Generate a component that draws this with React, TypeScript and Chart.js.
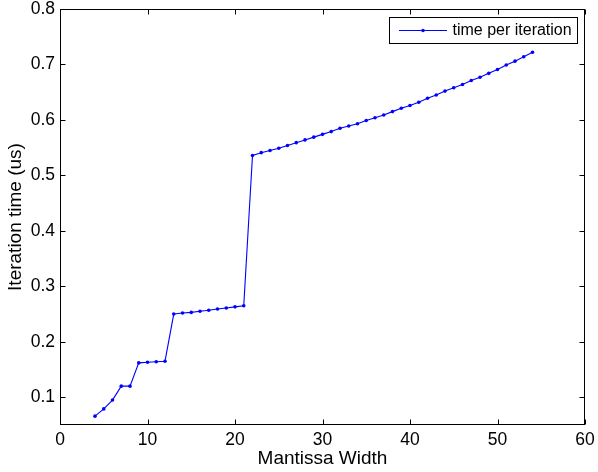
import React, { useEffect, useRef } from "react";
import { Chart, registerables } from "chart.js";

Chart.register(...registerables);

const mantissaWidths = [
  4, 5, 6, 7, 8, 9, 10, 11, 12, 13, 14, 15, 16, 17, 18, 19, 20, 21, 22, 23, 24, 25, 26, 27, 28,
  29, 30, 31, 32, 33, 34, 35, 36, 37, 38, 39, 40, 41, 42, 43, 44, 45, 46, 47, 48, 49, 50, 51,
  52, 53, 54,
];

const iterationTimes = [
  0.066, 0.079, 0.095, 0.12, 0.12, 0.162, 0.163, 0.164, 0.165, 0.25, 0.252, 0.253, 0.255,
  0.257, 0.259, 0.261, 0.263, 0.265, 0.536, 0.541, 0.545, 0.549, 0.554, 0.559, 0.564, 0.569,
  0.574, 0.579, 0.585, 0.589, 0.593, 0.599, 0.604, 0.609, 0.615, 0.621, 0.626, 0.632, 0.639,
  0.645, 0.652, 0.658, 0.664, 0.671, 0.677, 0.684, 0.691, 0.699, 0.706, 0.714, 0.722,
];

const xTicks = [0, 10, 20, 30, 40, 50, 60];
const yTicks = [0.1, 0.2, 0.3, 0.4, 0.5, 0.6, 0.7, 0.8];

const seriesLabel = "time per iteration";
const xTitle = "Mantissa Width";
const yTitle = "Iteration time (us)";

const FONT = "'Liberation Sans', Arial, Helvetica, sans-serif";
const BLUE = "#0000ff";

const framePlugin = {
  id: "frame",
  afterDraw(chart: any) {
    const { ctx, chartArea: a, scales } = chart;
    const xs = scales.x;
    const ys = scales.y;
    const L = Math.round(a.left) + 0.5;
    const R = Math.round(a.right) - 0.5;
    const T = Math.round(a.top) + 0.5;
    const B = Math.round(a.bottom) - 0.5;
    ctx.save();
    ctx.strokeStyle = "#000";
    ctx.lineWidth = 1;
    ctx.strokeRect(L, T, R - L, B - T);
    const tl = 5;
    ctx.beginPath();
    xTicks.forEach((v) => {
      const px = Math.round(xs.getPixelForValue(v)) + 0.5;
      ctx.moveTo(px, B);
      ctx.lineTo(px, B - tl);
      ctx.moveTo(px, T);
      ctx.lineTo(px, T + tl);
    });
    yTicks.forEach((v) => {
      const py = Math.round(ys.getPixelForValue(v)) + 0.5;
      ctx.moveTo(L, py);
      ctx.lineTo(L + tl, py);
      ctx.moveTo(R, py);
      ctx.lineTo(R - tl, py);
    });
    ctx.stroke();

    // legend box
    const bx = 389.5;
    const by = 17.5;
    const bw = 188;
    const bh = 26;
    ctx.fillStyle = "#fff";
    ctx.fillRect(bx, by, bw, bh);
    ctx.strokeRect(bx, by, bw, bh);
    const ly = by + bh / 2;
    ctx.strokeStyle = BLUE;
    ctx.beginPath();
    ctx.moveTo(399, ly);
    ctx.lineTo(447, ly);
    ctx.stroke();
    ctx.fillStyle = BLUE;
    ctx.beginPath();
    ctx.arc(423, ly, 1.8, 0, Math.PI * 2);
    ctx.fill();
    ctx.fillStyle = "#000";
    ctx.font = `16px ${FONT}`;
    ctx.textBaseline = "middle";
    ctx.textAlign = "left";
    ctx.fillText(seriesLabel, 452.5, ly + 0.5);
    ctx.restore();
  },
};

export default function App() {
  const ref = useRef<HTMLCanvasElement | null>(null);
  useEffect(() => {
    if (!ref.current) return;
    const chart = new Chart(ref.current, {
      type: "line",
      data: {
        datasets: [
          {
            label: seriesLabel,
            data: mantissaWidths.map((x, i) => ({ x, y: iterationTimes[i] })),
            borderColor: BLUE,
            backgroundColor: BLUE,
            borderWidth: 1.1,
            pointRadius: 1.8,
            pointBorderWidth: 0,
            pointBackgroundColor: BLUE,
            tension: 0,
          },
        ],
      },
      options: {
        animation: false,
        responsive: false,
        devicePixelRatio: 1,
        layout: { padding: { top: 9, right: 13, left: 0, bottom: 0 } },
        plugins: { legend: { display: false }, tooltip: { enabled: false } },
        scales: {
          x: {
            type: "linear",
            min: 0,
            max: 60,
            grid: { display: false, drawTicks: false },
            border: { display: false },
            afterBuildTicks: (s: any) => {
              s.ticks = xTicks.map((value) => ({ value }));
            },
            afterFit: (s: any) => {
              s.height = 47;
              s.paddingLeft = 0;
              s.paddingRight = 0;
            },
            ticks: {
              color: "#000",
              font: { family: FONT, size: 17.5 },
              padding: 5,
              maxRotation: 0,
              callback: (v: any) => String(v),
            },
            title: {
              display: true,
              text: xTitle,
              color: "#000",
              font: { family: FONT, size: 19 },
              padding: { bottom: 2, top: 0 },
            },
          },
          y: {
            type: "linear",
            min: 0.05,
            max: 0.8,
            grid: { display: false, drawTicks: false },
            border: { display: false },
            afterBuildTicks: (s: any) => {
              s.ticks = yTicks.map((value) => ({ value }));
            },
            afterFit: (s: any) => {
              s.width = 60;
              s.paddingTop = 0;
              s.paddingBottom = 0;
            },
            ticks: {
              color: "#000",
              font: { family: FONT, size: 17.5 },
              padding: 5,
              callback: (v: any) => Number(v).toFixed(1),
            },
            title: {
              display: true,
              text: yTitle,
              color: "#000",
              font: { family: FONT, size: 19 },
              padding: { top: 4, bottom: 0 },
            },
          },
        },
      },
      plugins: [framePlugin],
    });
    return () => chart.destroy();
  }, []);
  return (
    <div style={{ position: "fixed", left: 0, top: 0, width: 598, height: 472, background: "#fff" }}>
      <canvas ref={ref} width={598} height={472} style={{ display: "block" }} />
    </div>
  );
}
